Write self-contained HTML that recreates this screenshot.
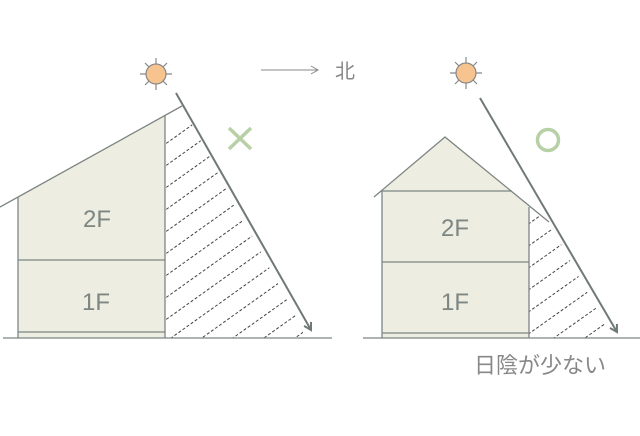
<!DOCTYPE html><html><head><style>html,body{margin:0;background:#fff;overflow:hidden;width:640px;height:436px}svg{display:block}</style></head><body>
<svg width="640" height="436" viewBox="0 0 640 436" xmlns="http://www.w3.org/2000/svg" font-family="Liberation Sans, sans-serif">
<defs>
<clipPath id="c1"><polygon points="165,115 182,106 303,330 303,338 165,338"/></clipPath>
<clipPath id="c2"><polygon points="529,207 549,222 612,338 529,338"/></clipPath>
<marker id="ah" markerWidth="10" markerHeight="10" refX="8" refY="5" orient="auto" markerUnits="userSpaceOnUse"><path d="M1,1 L8,5 L1,9" fill="none" stroke="#6f7a74" stroke-width="2"/></marker>
<marker id="ah2" markerWidth="10" markerHeight="10" refX="8" refY="5" orient="auto" markerUnits="userSpaceOnUse"><path d="M1,1 L8,5 L1,9" fill="none" stroke="#888" stroke-width="1"/></marker>
</defs>
<g stroke="#444" stroke-width="1" stroke-dasharray="3,2" clip-path="url(#c1)">
<line x1="150" y1="155" x2="290" y2="55"/><line x1="150" y1="177" x2="290" y2="77"/><line x1="150" y1="199" x2="290" y2="99"/><line x1="150" y1="221" x2="290" y2="121"/><line x1="150" y1="243" x2="290" y2="143"/><line x1="150" y1="265" x2="290" y2="165"/><line x1="150" y1="287" x2="290" y2="187"/><line x1="150" y1="309" x2="290" y2="209"/><line x1="150" y1="331" x2="290" y2="231"/><line x1="150" y1="353" x2="290" y2="253"/><line x1="150" y1="375" x2="290" y2="275"/><line x1="150" y1="397" x2="320" y2="276"/><line x1="150" y1="419" x2="330" y2="291"/><line x1="150" y1="441" x2="340" y2="306"/><line x1="150" y1="463" x2="350" y2="321"/>
</g>
<g stroke="#444" stroke-width="1" stroke-dasharray="3,2" clip-path="url(#c2)">
<line x1="520" y1="230" x2="620" y2="159"/><line x1="520" y1="252" x2="620" y2="181"/><line x1="520" y1="274" x2="620" y2="203"/><line x1="520" y1="296" x2="620" y2="225"/><line x1="520" y1="318" x2="620" y2="247"/><line x1="520" y1="340" x2="620" y2="269"/><line x1="520" y1="362" x2="640" y2="277"/><line x1="520" y1="384" x2="640" y2="299"/>
</g>
<polygon points="18,197 165,115 165,338 18,338" fill="#eeede1"/>
<g stroke="#7c8682" stroke-width="1.3" fill="none">
<line x1="0" y1="207" x2="182" y2="106"/>
<line x1="18" y1="197" x2="18" y2="338"/><line x1="165" y1="115" x2="165" y2="338"/>
<line x1="18" y1="260" x2="165" y2="260"/><line x1="18" y1="332" x2="165" y2="332"/>
<line x1="3" y1="338" x2="332" y2="338"/>
</g>
<line x1="176" y1="93" x2="311" y2="330" stroke="#6f7a74" stroke-width="2" marker-end="url(#ah)"/>
<text x="97" y="227" font-size="24" fill="#7c8682" text-anchor="middle">2F</text>
<text x="96" y="310" font-size="24" fill="#7c8682" text-anchor="middle">1F</text>
<polygon points="382,191 445,137 529,207 529,338 382,338" fill="#eeede1"/>
<g stroke="#7c8682" stroke-width="1.3" fill="none">
<polyline points="374,197 445,137 549,222"/>
<line x1="382" y1="191" x2="382" y2="338"/><line x1="529" y1="207" x2="529" y2="338"/>
<line x1="382" y1="191" x2="512" y2="191"/>
<line x1="382" y1="262" x2="529" y2="262"/><line x1="382" y1="333" x2="529" y2="333"/>
<line x1="363" y1="338" x2="640" y2="338"/>
</g>
<line x1="480" y1="98" x2="617" y2="332" stroke="#6f7a74" stroke-width="2" marker-end="url(#ah)"/>
<text x="455" y="236" font-size="24" fill="#7c8682" text-anchor="middle">2F</text>
<text x="455" y="310" font-size="24" fill="#7c8682" text-anchor="middle">1F</text>
<g stroke="#888" stroke-width="1.2">
<g transform="translate(156,74)"><line x1="-16" y1="0" x2="16" y2="0"/><line x1="0" y1="-16" x2="0" y2="16"/><line x1="-11" y1="-11" x2="11" y2="11"/><line x1="-11" y1="11" x2="11" y2="-11"/><circle r="10" fill="#f7c38f"/></g>
<g transform="translate(466,73)"><line x1="-16" y1="0" x2="16" y2="0"/><line x1="0" y1="-16" x2="0" y2="16"/><line x1="-11" y1="-11" x2="11" y2="11"/><line x1="-11" y1="11" x2="11" y2="-11"/><circle r="10" fill="#f7c38f"/></g>
</g>
<g stroke="#b7d0a6" stroke-width="3.5"><line x1="229" y1="128" x2="251" y2="149"/><line x1="251" y1="128" x2="229" y2="149"/></g>
<circle cx="548" cy="140" r="10.5" fill="none" stroke="#b7d0a6" stroke-width="3.5"/>
<line x1="261" y1="70" x2="318" y2="70" stroke="#888" stroke-width="1" marker-end="url(#ah2)"/>
<text x="335" y="78" font-size="20" fill="#888" font-family="Liberation Sans, Noto Sans CJK JP, sans-serif">北</text>
<text x="474" y="373" font-size="22" fill="#888" font-family="Liberation Sans, Noto Sans CJK JP, sans-serif">日陰が少ない</text>
</svg></body></html>
